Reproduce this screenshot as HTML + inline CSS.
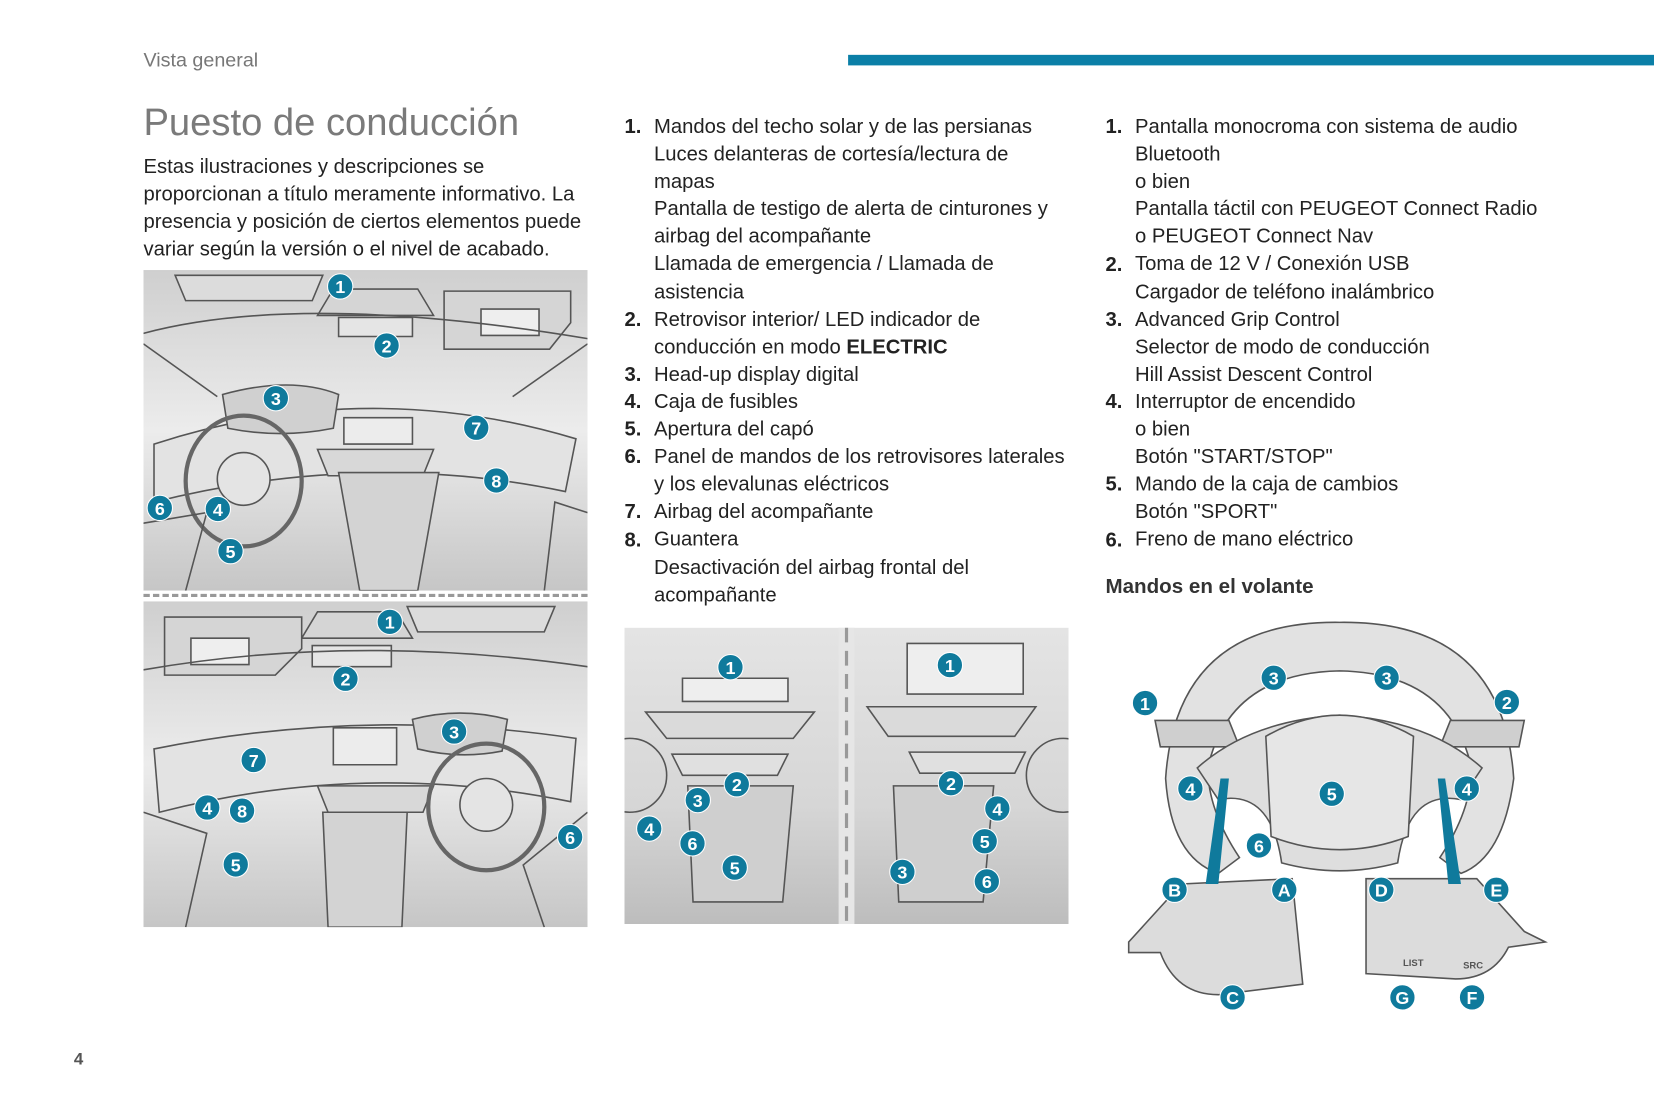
<!DOCTYPE html>
<html><head><meta charset="utf-8">
<style>
html,body{margin:0;padding:0;background:#fff;}
body{width:1654px;height:1103px;overflow:hidden;position:relative;}
#w{position:absolute;left:0;top:0;width:1568px;height:1046px;transform:scale(1.05485);transform-origin:0 0;font-family:"Liberation Sans",Arial,sans-serif;color:#222;}
.a{position:absolute;}
.t{font-size:19.2px;line-height:26.1px;white-space:nowrap;}
.n{position:absolute;left:0;font-weight:bold;}
.c{position:absolute;width:25px;height:25px;border-radius:50%;background:#0f7a9c;color:#fff;font-weight:bold;font-size:17px;line-height:25px;text-align:center;border:1.5px solid #fff;box-sizing:border-box;}
.img{position:absolute;overflow:hidden;}
</style></head><body><div id="w">
<div class="a" style="left:136px;top:46px;font-size:18.7px;color:#777;">Vista general</div>
<div class="a" style="left:804px;top:52px;width:764px;height:10px;background:#0b7fa7;"></div>
<div class="a" style="left:136px;top:95px;font-size:36.2px;color:#7a7a7a;">Puesto de conducción</div>
<div class="a t" style="left:136px;top:146px;">Estas ilustraciones y descripciones se<br>proporcionan a título meramente informativo. La<br>presencia y posición de ciertos elementos puede<br>variar según la versión o el nivel de acabado.</div>

<div class="a t" style="left:592px;top:108px;">
<div style="position:relative;padding-left:28px;">
<span class="n" style="top:0">1.</span>Mandos del techo solar y de las persianas<br>Luces delanteras de cortesía/lectura de<br>mapas<br>Pantalla de testigo de alerta de cinturones y<br>airbag del acompañante<br>Llamada de emergencia / Llamada de<br>asistencia<br>
<span class="n" style="top:182.7px">2.</span>Retrovisor interior/ LED indicador de<br>conducción en modo <b>ELECTRIC</b><br>
<span class="n" style="top:234.9px">3.</span>Head-up display digital<br>
<span class="n" style="top:261px">4.</span>Caja de fusibles<br>
<span class="n" style="top:287.1px">5.</span>Apertura del capó<br>
<span class="n" style="top:313.2px">6.</span>Panel de mandos de los retrovisores laterales<br>y los elevalunas eléctricos<br>
<span class="n" style="top:365.4px">7.</span>Airbag del acompañante<br>
<span class="n" style="top:391.5px">8.</span>Guantera<br>Desactivación del airbag frontal del<br>acompañante
</div></div>

<div class="a t" style="left:1048px;top:108px;">
<div style="position:relative;padding-left:28px;">
<span class="n" style="top:0">1.</span>Pantalla monocroma con sistema de audio<br>Bluetooth<br>o bien<br>Pantalla táctil con PEUGEOT Connect Radio<br>o PEUGEOT Connect Nav<br>
<span class="n" style="top:130.5px">2.</span>Toma de 12 V / Conexión USB<br>Cargador de teléfono inalámbrico<br>
<span class="n" style="top:182.7px">3.</span>Advanced Grip Control<br>Selector de modo de conducción<br>Hill Assist Descent Control<br>
<span class="n" style="top:261px">4.</span>Interruptor de encendido<br>o bien<br>Botón "START/STOP"<br>
<span class="n" style="top:339.3px">5.</span>Mando de la caja de cambios<br>Botón "SPORT"<br>
<span class="n" style="top:391.5px">6.</span>Freno de mano eléctrico
</div></div>
<div class="a" style="left:1048px;top:545px;font-size:19.5px;font-weight:bold;color:#333;">Mandos en el volante</div>
<div class="a" style="left:70px;top:996px;font-size:16px;font-weight:bold;color:#555;">4</div>

<!-- top-left image -->
<div class="img" style="left:136px;top:256px;width:421px;height:304px;">
<svg width="421" height="304" viewBox="0 0 421 304">
<defs><linearGradient id="g1" x1="0" y1="0" x2="0" y2="1"><stop offset="0" stop-color="#cfcfcf"/><stop offset=".5" stop-color="#ececec"/><stop offset="1" stop-color="#c6c6c6"/></linearGradient></defs>
<rect width="421" height="304" fill="url(#g1)"/>
<g fill="none" stroke="#555" stroke-width="1.5">
<path d="M30 5h140l-10 24H40z" fill="#dcdcdc"/>
<path d="M180 18h80l15 25h-110z" fill="#d5d5d5"/>
<path d="M185 45h70v18h-70z" rx="9" fill="#e5e5e5"/>
<path d="M285 20h120v30l-20 25H285z" fill="#d5d5d5"/>
<path d="M320 37h55v25h-55z" fill="#eee"/>
<path d="M0 60 Q 150 20 421 65"/>
<path d="M0 70 L70 120"/><path d="M421 70 L350 120"/>
<path d="M10 165 Q 210 100 410 160 L400 210 Q 210 170 10 220z" fill="#e3e3e3"/>
<path d="M75 118 Q140 100 185 118 L180 150 Q130 160 80 150z" fill="#d0d0d0"/>
<path d="M190 140h65v25h-65z" fill="#ececec"/>
<path d="M165 170h110l-10 25h-90z" fill="#d8d8d8"/>
<path d="M185 192h95l-20 112h-55z" fill="#d3d3d3"/>
<ellipse cx="95" cy="200" rx="55" ry="62" stroke-width="4" stroke="#666"/>
<ellipse cx="95" cy="198" rx="25" ry="25" fill="#e4e4e4"/>
<path d="M0 240 L60 230 L40 304"/><path d="M421 230 L390 220 L380 304"/>
</g></svg></div>
<div class="a" style="left:136px;top:563px;width:421px;border-top:3px dashed #999;"></div>
<!-- bottom-left image -->
<div class="img" style="left:136px;top:570px;width:421px;height:309px;">
<svg width="421" height="309" viewBox="0 0 421 309">
<rect width="421" height="309" fill="url(#g1)"/>
<g fill="none" stroke="#555" stroke-width="1.5">
<path d="M250 5h140l-10 24H260z" fill="#dcdcdc"/>
<path d="M165 10h75l15 25h-105z" fill="#d5d5d5"/>
<path d="M160 42h75v20h-75z" fill="#e5e5e5"/>
<path d="M20 15h130v30l-25 25H20z" fill="#d5d5d5"/>
<path d="M45 35h55v25h-55z" fill="#eee"/>
<path d="M0 65 Q 200 30 421 62"/>
<path d="M10 140 Q 210 100 410 130 L405 190 Q 210 150 15 200z" fill="#e3e3e3"/>
<path d="M255 112 Q300 100 345 112 L340 142 Q300 150 260 140z" fill="#d0d0d0"/>
<path d="M180 120h60v35h-60z" fill="#ececec"/>
<path d="M165 175h110l-10 25h-90z" fill="#d8d8d8"/>
<path d="M170 200h80l-5 109h-70z" fill="#d3d3d3"/>
<ellipse cx="325" cy="195" rx="55" ry="60" stroke-width="4" stroke="#666"/>
<ellipse cx="325" cy="193" rx="25" ry="25" fill="#e4e4e4"/>
<path d="M421 200 L360 250 L380 309"/><path d="M0 200 L60 220 L40 309"/>
</g></svg></div>
<!-- middle image -->
<div class="img" style="left:592px;top:595px;width:421px;height:281px;">
<svg width="421" height="281" viewBox="0 0 421 281">
<defs><linearGradient id="g2" x1="0" y1="0" x2="0" y2="1"><stop offset="0" stop-color="#e4e4e4"/><stop offset=".6" stop-color="#d6d6d6"/><stop offset="1" stop-color="#bdbdbd"/></linearGradient></defs>
<rect width="421" height="281" fill="url(#g2)"/>
<g fill="none" stroke="#555" stroke-width="1.5">
<path d="M55 48h100v22h-100z" fill="#eee"/>
<path d="M20 80h160l-20 25H40z" fill="#dadada"/>
<path d="M45 120h110l-10 20h-90z" fill="#e0e0e0"/>
<path d="M60 150h100l-10 110h-85z" fill="#cfcfcf"/>
<circle cx="5" cy="140" r="35"/>
<path d="M268 15h110v48h-110z" fill="#eee"/>
<path d="M230 75h160l-20 28H250z" fill="#dadada"/>
<path d="M270 118h110l-10 20h-90z" fill="#e0e0e0"/>
<path d="M255 150h95l-10 110h-80z" fill="#cfcfcf"/>
<circle cx="416" cy="140" r="35"/>
</g>
<rect x="203" y="0" width="15" height="281" fill="#e6e6e6"/>
<line x1="210.5" y1="0" x2="210.5" y2="281" stroke="#999" stroke-width="3" stroke-dasharray="14 8"/>
</svg></div>
<!-- steering wheel -->
<div class="img" style="left:1065px;top:588px;width:410px;height:375px;">
<svg width="410" height="375" viewBox="0 0 410 375">
<g stroke="#555" stroke-width="1.5" fill="#e2e2e2">
<path d="M40 150 Q 50 0 205 2 Q 360 0 370 150 Q 360 225 320 240 L 300 225 Q 330 180 330 140 Q 310 50 205 48 Q 100 50 80 140 Q 80 180 110 225 L 90 240 Q 45 225 40 150z"/>
<path d="M30 95 l70 0 l10 25 l-75 0z" fill="#cfcfcf"/>
<path d="M380 95 l-70 0 l-10 25 l75 0z" fill="#cfcfcf"/>
<path d="M70 140 Q120 95 205 90 Q290 95 340 140 L 320 170 Q 270 160 260 230 Q 205 245 150 230 Q 140 160 90 170z" fill="#dedede"/>
<path d="M135 110 Q205 70 275 110 L270 205 Q205 230 140 205z" fill="#e6e6e6"/>
<path d="M5 305 l50 -55 l105 -5 l10 100 l-80 10 q-40 0 -55 -40 l-30 0z" fill="#dcdcdc"/>
<path d="M230 245 l105 0 l45 50 l20 10 l-35 5 q-15 30 -50 30 l-85 -5z" fill="#dcdcdc"/>
</g>
<polygon points="92,150 100,150 90,250 78,250" fill="#0f7a9c"/>
<polygon points="298,150 305,150 320,250 308,250" fill="#0f7a9c"/>
<text x="265" y="328" font-size="9" font-weight="bold" fill="#555" font-family="Liberation Sans">LIST</text>
<text x="322" y="330" font-size="9" font-weight="bold" fill="#555" font-family="Liberation Sans">SRC</text>
</svg></div>

<!-- markers -->
<div class="c" style="left:310px;top:259px">1</div>
<div class="c" style="left:354px;top:315px">2</div>
<div class="c" style="left:249px;top:365px">3</div>
<div class="c" style="left:439px;top:393px">7</div>
<div class="c" style="left:458px;top:443px">8</div>
<div class="c" style="left:139px;top:469px">6</div>
<div class="c" style="left:194px;top:470px">4</div>
<div class="c" style="left:206px;top:510px">5</div>

<div class="c" style="left:357px;top:577px">1</div>
<div class="c" style="left:315px;top:631px">2</div>
<div class="c" style="left:418px;top:681px">3</div>
<div class="c" style="left:228px;top:708px">7</div>
<div class="c" style="left:184px;top:753px">4</div>
<div class="c" style="left:217px;top:756px">8</div>
<div class="c" style="left:528px;top:781px">6</div>
<div class="c" style="left:211px;top:807px">5</div>

<div class="c" style="left:680px;top:620px">1</div>
<div class="c" style="left:888px;top:618px">1</div>
<div class="c" style="left:686px;top:731px">2</div>
<div class="c" style="left:889px;top:730px">2</div>
<div class="c" style="left:649px;top:746px">3</div>
<div class="c" style="left:603px;top:773px">4</div>
<div class="c" style="left:644px;top:787px">6</div>
<div class="c" style="left:684px;top:810px">5</div>
<div class="c" style="left:933px;top:754px">4</div>
<div class="c" style="left:921px;top:785px">5</div>
<div class="c" style="left:843px;top:814px">3</div>
<div class="c" style="left:923px;top:823px">6</div>

<div class="c" style="left:1073px;top:654px">1</div>
<div class="c" style="left:1416px;top:653px">2</div>
<div class="c" style="left:1195px;top:630px">3</div>
<div class="c" style="left:1302px;top:630px">3</div>
<div class="c" style="left:1116px;top:735px">4</div>
<div class="c" style="left:1378px;top:735px">4</div>
<div class="c" style="left:1250px;top:740px">5</div>
<div class="c" style="left:1181px;top:789px">6</div>
<div class="c" style="left:1101px;top:831px">B</div>
<div class="c" style="left:1205px;top:831px">A</div>
<div class="c" style="left:1297px;top:831px">D</div>
<div class="c" style="left:1406px;top:831px">E</div>
<div class="c" style="left:1156px;top:933px">C</div>
<div class="c" style="left:1317px;top:933px">G</div>
<div class="c" style="left:1383px;top:933px">F</div>
</div></body></html>
